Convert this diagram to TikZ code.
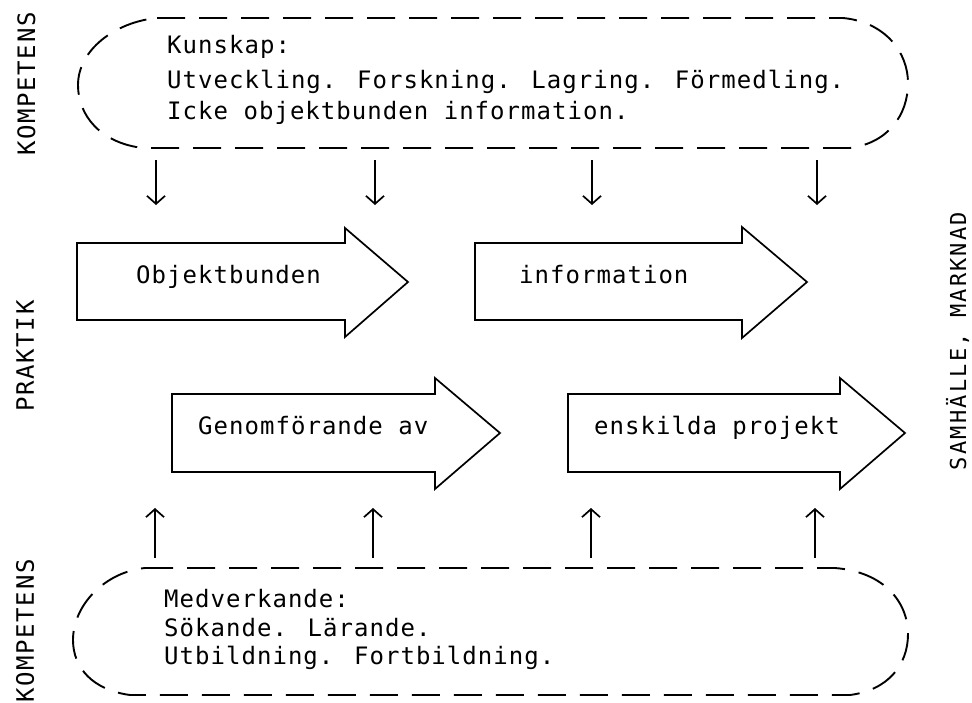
\documentclass[tikz,border=0pt]{standalone}
\usepackage{fontspec}
\usetikzlibrary{arrows.meta}
% typewriter-like face, widened with tracking
\newfontfamily\tw[LetterSpace=4.3]{DejaVu Sans Mono}
\newfontfamily\twside[LetterSpace=7]{DejaVu Sans Mono}
\newfontfamily\twright[LetterSpace=10]{DejaVu Sans Mono}

\tikzset{
  dashedcloud/.style={line width=1.9pt, dash pattern=on 28pt off 14pt},
  bigarrow/.style={line width=1.7pt, line join=miter},
  flow/.style={line width=1.7pt, -{Straight Barb[length=8pt,width=18pt,line width=1.7pt]}},
  txt/.style={font=\tw\fontsize{24}{28}\selectfont, anchor=base west, inner sep=0pt},
  sidelabel/.style={font=\twside\fontsize{24}{28}\selectfont, rotate=90, anchor=base, inner sep=0pt},
  rightlabel/.style={font=\twright\fontsize{22}{26}\selectfont, rotate=90, anchor=base, inner sep=0pt}
}

\begin{document}
\begin{tikzpicture}[x=1pt, y=-1pt]
\useasboundingbox (0,0) rectangle (972,702);

% upper competence field
\draw[dashedcloud] (157,18) -- (843,18)
  .. controls (885,22) and (908,52) .. (908,83)
  .. controls (908,115) and (888,143) .. (850,148)
  -- (143,148)
  .. controls (100,143) and (78,115) .. (78,85)
  .. controls (78,50) and (115,22) .. (157,18) -- cycle;
\node[txt] (kun1) at (167,53) {Kunskap:};
\node[txt] (kun2) at (167,88) {Utveckling. Forskning. Lagring. Förmedling.};
\node[txt] (kun3) at (167,119) {Icke objektbunden information.};

% lower competence field
\draw[dashedcloud] (145,568) -- (835,568)
  .. controls (885,572) and (908,603) .. (908,634)
  .. controls (908,665) and (888,690) .. (850,695)
  -- (130,695)
  .. controls (93,690) and (73,668) .. (73,640)
  .. controls (73,605) and (105,572) .. (145,568) -- cycle;
\node[txt] (med1) at (164,607) {Medverkande:};
\node[txt] (med2) at (164,636) {Sökande. Lärande.};
\node[txt] (med3) at (164,664) {Utbildning. Fortbildning.};

% practice arrows
\draw[bigarrow] (77,243) -- (345,243) -- (345,228) -- (408,282) -- (345,337) -- (345,320) -- (77,320) -- cycle;
\draw[bigarrow] (475,243) -- (742,243) -- (742,227) -- (807,282) -- (742,338) -- (742,320) -- (475,320) -- cycle;
\draw[bigarrow] (172,394) -- (435,394) -- (435,378) -- (500,433) -- (435,489) -- (435,472) -- (172,472) -- cycle;
\draw[bigarrow] (568,394) -- (840,394) -- (840,378) -- (905,433) -- (840,489) -- (840,472) -- (568,472) -- cycle;
\node[txt] (obj) at (136,283) {Objektbunden};
\node[txt] (inf) at (519,283) {information};
\node[txt] (gen) at (198,434) {Genomförande av};
\node[txt] (ens) at (594,434) {enskilda projekt};

% flows from and to the competence fields
\foreach \i/\x in {1/156,2/375,3/592,4/817}{
  \coordinate (dtop\i) at (\x,160);
  \coordinate (dbot\i) at (\x,205);
  \draw[flow] (dtop\i) -- (dbot\i);
}
\foreach \i/\x in {1/155,2/373,3/591,4/815}{
  \coordinate (ubot\i) at (\x,558);
  \coordinate (utop\i) at (\x,508);
  \draw[flow] (ubot\i) -- (utop\i);
}

% side labels (baseline on the right-hand side after rotation)
\node[sidelabel] (kompA) at (35,84) {KOMPETENS};
\node[sidelabel] (prak) at (34,356) {PRAKTIK};
\node[sidelabel] (kompB) at (34,631) {KOMPETENS};
\node[rightlabel] (sam) at (966,341) {SAMHÄLLE, MARKNAD};
\end{tikzpicture}
\end{document}
